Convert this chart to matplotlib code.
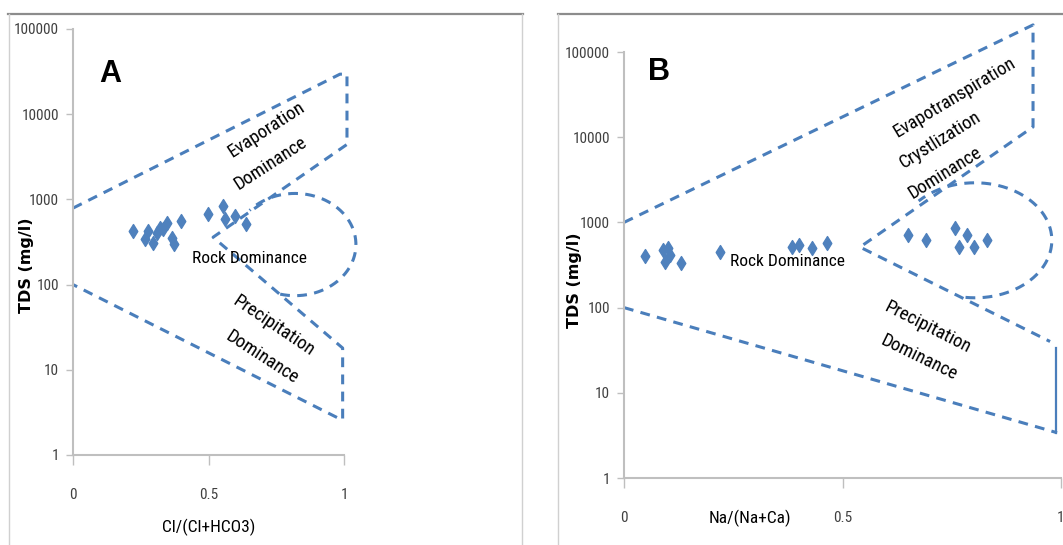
import numpy as np
import matplotlib
matplotlib.use('Agg')
import matplotlib.pyplot as plt
from matplotlib.lines import Line2D
from matplotlib.path import Path

W, H = 1063, 545
BLUE = '#4A7EBB'
plt.rcParams['font.family'] = ['Roboto Condensed', 'DejaVu Sans']

# ---------------- data ----------------
tds_ticks = [1, 10, 100, 1000, 10000, 100000]
tds_labels = ['1', '10', '100', '1000', '10000', '100000']
ratio_ticks = [0, 0.5, 1]
ratio_labels = ['0', '0.5', '1']

# panel A : Cl/(Cl+HCO3)
a_ratio = [0.22, 0.266, 0.276, 0.295, 0.31, 0.321, 0.332, 0.347, 0.365,
           0.373, 0.399, 0.498, 0.553, 0.561, 0.598, 0.638]
a_tds = [425, 343, 425, 309, 400, 460, 450, 527, 352,
         300, 556, 673, 834, 590, 635, 510]

# Gibbs boundary (dashed), outer + inner wedge
a_bound_x = [0.0, 0.985, 1.011, 1.011, 0.517, 0.995, 0.995, 0.99, 0.0]
a_bound_y = [790, 29500, 29500, 4420, 360, 18, 2.6, 2.6, 100]
a_ellipse = (0.819, 0.225, 2.47, 0.60, -104, 138)  # cx, rx, log cy, log ry, angle range

# panel B : Na/(Na+Ca)
b_ratio = [0.048, 0.089, 0.10, 0.094, 0.105, 0.13, 0.22, 0.385, 0.40,
           0.43, 0.465, 0.65, 0.69, 0.757, 0.785, 0.767, 0.80, 0.83]
b_tds = [405, 475, 500, 345, 415, 335, 450, 515, 540,
         500, 580, 710, 620, 860, 710, 515, 515, 620]

b_upper_x = [0.0, 0.936, 0.936, 0.54, 0.975]
b_upper_y = [1000, 208000, 13200, 513, 40]
b_lower_x = [0.0, 0.991]
b_lower_y = [100, 3.4]
b_solid_x = [0.989, 0.989]
b_solid_y = [33.6, 3.4]
b_ellipse = (0.803, 0.176, 2.79, 0.675, -97, 137)

diamond = Path([(0, 1), (0.62, 0), (0, -1), (-0.62, 0), (0, 1)],
               [Path.MOVETO, Path.LINETO, Path.LINETO, Path.LINETO, Path.CLOSEPOLY])


def px_rect(left, right, top, bottom):
    return [left / W, 1 - bottom / H, (right - left) / W, (bottom - top) / H]


def dashed(ax, x, y, **kw):
    ax.plot(x, y, color=BLUE, lw=2.2, dashes=(3.2, 2.4), clip_on=False, **kw)


def arc(ax, e):
    cx, rx, cy, ry, t0, t1 = e
    t = np.radians(np.linspace(t0, t1, 200))
    dashed(ax, cx + rx * np.cos(t), 10 ** (cy + ry * np.sin(t)))


def style(ax):
    ax.set_yscale('log')
    ax.set_xlim(0, 1)
    ax.set_ylim(1, 100000)
    ax.set_yticks(tds_ticks)
    ax.set_yticklabels(tds_labels)
    ax.minorticks_off()
    ax.set_xticks(ratio_ticks)
    ax.set_xticklabels(ratio_labels)
    for s in ['top', 'right']:
        ax.spines[s].set_visible(False)
    for s in ['left', 'bottom']:
        ax.spines[s].set_color('#BFBFBF')
        ax.spines[s].set_linewidth(1.5)
    ax.tick_params(axis='y', length=5, width=1, color='#BFBFBF', pad=5,
                   labelsize=11, labelcolor='#404040')
    ax.tick_params(axis='x', length=7, width=1, color='#BFBFBF', pad=17,
                   labelsize=11, labelcolor='#404040')
    ax.set_ylabel('TDS (mg/l)', family='DejaVu Sans', fontsize=11.5, fontweight='bold')
    ax.yaxis.label.set_va('center')


fig = plt.figure(figsize=(W / 100, H / 100), dpi=100)

# panel frames
for (x0, x1) in [(8, 523), (558, 1063)]:
    fig.add_artist(Line2D([x0 / W, x1 / W], [1 - 14 / H] * 2, color='#8C8C8C', lw=1.6))
for xv in [9, 522, 558]:
    fig.add_artist(Line2D([xv / W] * 2, [0, 1 - 14 / H], color='#D0D0D0', lw=1))

# ---------------- panel A ----------------
ax = fig.add_axes(px_rect(73, 344, 29, 455))
style(ax)
dashed(ax, a_bound_x, a_bound_y)
arc(ax, a_ellipse)
ax.plot(a_ratio, a_tds, ls='none', marker=diamond, ms=10, color='#4F81BD', zorder=3)
ax.set_xlabel('Cl/(Cl+HCO3)', fontsize=12.5)
ax.xaxis.label.set_va('center')
ax.xaxis.set_label_coords(0.5, -(527 - 455) / 426)
ax.yaxis.set_label_coords((26 - 73) / 271, (455 - 265) / 426)
ax.text(0.137, 29500, 'A', family='Liberation Sans', fontsize=22, fontweight='bold',
        ha='center', va='center')
ax.text(0.716, 6600, 'Evaporation', fontsize=13.5, rotation=33, ha='center', va='center')
ax.text(0.73, 2650, 'Dominance', fontsize=13.5, rotation=33, ha='center', va='center')
ax.text(0.65, 200, 'Rock Dominance', fontsize=12.5, ha='center', va='center')
ax.text(0.742, 33, 'Precipitation', fontsize=13.5, rotation=-34, ha='center', va='center')
ax.text(0.697, 14, 'Dominance', fontsize=13.5, rotation=-33, ha='center', va='center')

# ---------------- panel B ----------------
bx = fig.add_axes(px_rect(624, 1061, 52, 478))
style(bx)
dashed(bx, b_upper_x, b_upper_y)
dashed(bx, b_lower_x, b_lower_y)
bx.plot(b_solid_x, b_solid_y, color=BLUE, lw=1.6, clip_on=False)
arc(bx, b_ellipse)
bx.plot(b_ratio, b_tds, ls='none', marker=diamond, ms=10, color='#4F81BD', zorder=3)
bx.set_xlabel('Na/(Na+Ca)', fontsize=12.5)
bx.xaxis.label.set_va('center')
bx.xaxis.set_label_coords((750 - 624) / 437, -(518 - 478) / 426)
bx.yaxis.set_label_coords((574 - 624) / 437, (478 - 280) / 426)
bx.text(0.08, 58000, 'B', family='Liberation Sans', fontsize=22, fontweight='bold',
        ha='center', va='center')
bx.text(0.757, 29600, 'Evapotranspiration', fontsize=13.5, rotation=31, ha='center', va='center')
bx.text(0.723, 9300, 'Crystlization', fontsize=13.5, rotation=32, ha='center', va='center')
bx.text(0.735, 3800, 'Dominance', fontsize=13.5, rotation=32, ha='center', va='center')
bx.text(0.373, 343, 'Rock Dominance', fontsize=12.5, ha='center', va='center')
bx.text(0.696, 59, 'Precipitation', fontsize=13.5, rotation=-27, ha='center', va='center')
bx.text(0.675, 26, 'Dominance', fontsize=13.5, rotation=-26, ha='center', va='center')

fig.savefig('out.png', dpi=100)
